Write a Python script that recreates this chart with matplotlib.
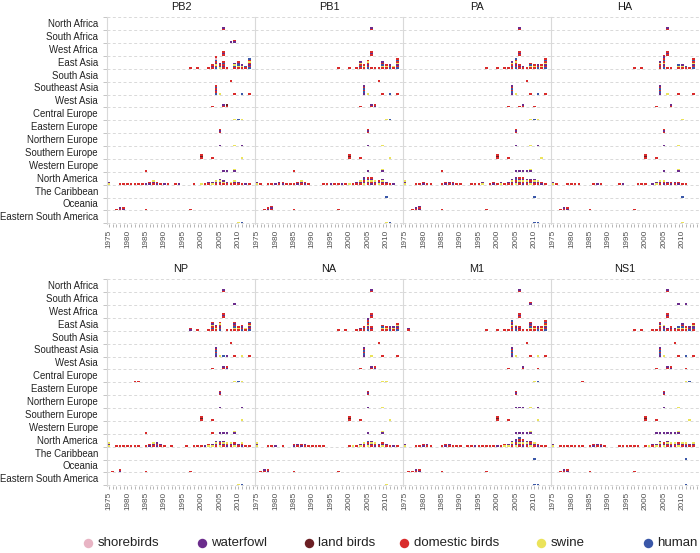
import matplotlib
matplotlib.use("Agg")
import matplotlib.pyplot as plt
from matplotlib.ticker import MultipleLocator, FixedLocator
from matplotlib.lines import Line2D

plt.rcParams['font.family'] = ['Liberation Sans', 'DejaVu Sans']

W, H = 700, 553

HOSTS = ["shorebirds", "waterfowl", "land birds", "domestic birds", "swine", "human"]
HOST_CODES = ["s", "w", "l", "d", "p", "h"]
HOST_COLORS = ["#E8B4C4", "#6B2C8C", "#6B1F24", "#D92B2B", "#EBE35A", "#3A57A8"]

REGIONS = ["North Africa", "South Africa", "West Africa", "East Asia", "South Asia",
           "Southeast Asia", "West Asia", "Central Europe", "Eastern Europe",
           "Northern Europe", "Southern Europe", "Western Europe", "North America",
           "The Caribbean", "Oceania", "Eastern South America"]

SEGMENTS = ["PB2", "PB1", "PA", "HA", "NP", "NA", "M1", "NS1"]

# one string per region (top to bottom): "year:hosts", one letter per sequence
PB2 = [
    "2006:dw",
    "2008:w 2009:wd",
    "2006:dwd",
    "1997:d 1999:d 2002:d 2003:dwd 2004:hdpwdhsd 2005:phdw 2006:dwdhd 2007:d 2009:dhpw "
    "2010:dphwd 2011:dpw 2012:dh 2013:hdwdpdh",
    "2008:d",
    "2004:hdwdhd 2005:p 2009:d 2011:h 2013:d",
    "2003:d 2006:dw 2007:dl",
    "2009:p 2010:h 2011:p",
    "2005:dwd",
    "2005:w 2009:p 2011:w",
    "2000:dld 2003:d 2011:p",
    "1985:d 2006:w 2007:w 2009:wp",
    "1975:pw 1978:d 1979:d 1980:d 1981:d 1982:d 1983:d 1984:d 1985:w 1986:wd 1987:dwp "
    "1988:wd 1989:d 1990:w 1991:d 1993:d 1994:w 1998:d 2000:p 2001:d 2002:dw 2003:pw "
    "2004:dwp 2005:dwpw 2006:dpw 2007:dw 2008:dp 2009:dwp 2010:dw 2011:d 2012:w 2013:d",
    "",
    "1977:d 1978:dw 1979:wd 1985:d 1997:d",
    "2010:p 2011:h",
]

PB1 = [
    "2006:dw",
    "",
    "2006:dwd",
    "1997:d 2000:d 2002:d 2003:dhdpw 2004:dpd 2005:hdwdpd 2006:d 2007:d 2008:d 2009:dphdw "
    "2010:dpd 2011:hdw 2012:dp 2013:hdwpdhd",
    "2008:d",
    "2004:whdhdw 2005:p 2009:d 2011:h 2013:d",
    "2003:d 2006:dw 2007:wd",
    "2010:p 2011:h",
    "2005:dwd",
    "2005:w 2009:p",
    "2000:dld 2003:d 2011:p",
    "1985:d 2005:w 2009:wp",
    "1975:pw 1976:d 1978:d 1979:d 1980:w 1981:dw 1982:wd 1983:d 1984:d 1985:d 1986:wd "
    "1987:dwp 1988:wd 1989:d 1993:d 1994:d 1995:w 1996:d 1997:d 1998:w 1999:d 2000:p "
    "2001:d 2002:dw 2003:dwp 2004:pwdhw 2005:dwpwd 2006:wdpwd 2007:dwp 2008:pwd 2009:dwpw "
    "2010:dw 2011:d 2012:w",
    "2010:h",
    "1977:d 1978:wd 1979:dwd 1985:d 1997:d",
    "2010:p 2011:h",
]

PA = [
    "2006:dw",
    "",
    "2006:dwd",
    "1997:d 2000:d 2002:d 2003:d 2004:dhdpw 2005:hdwdpdh 2006:dwd 2007:dw 2008:d 2009:dphd "
    "2010:dpd 2011:hdw 2012:dpd 2013:hdwpdhd",
    "2008:d",
    "2004:whdhdw 2005:p 2009:d 2011:h 2013:d",
    "2003:d 2006:d 2007:dw 2010:d",
    "2009:p 2010:h 2011:p",
    "2005:dwd",
    "2005:w 2009:p 2011:w",
    "2000:dld 2003:d 2012:p",
    "1985:d 2005:w 2006:w 2007:w 2008:w 2009:wp",
    "1975:pwp 1978:d 1979:d 1980:wd 1981:d 1982:d 1985:d 1986:wd 1987:dw 1988:wd 1989:d "
    "1990:d 1993:d 1994:d 1995:d 1996:pw 1998:d 1999:wd 2000:d 2001:pw 2002:d 2003:dw "
    "2004:dwpw 2005:pwdhw 2006:dwpwd 2007:wdpwd 2008:dwpw 2009:pwdw 2010:dwpw 2011:dwp "
    "2012:wd 2013:d",
    "2010:h",
    "1977:d 1978:dw 1979:wdw 1985:d 1997:d",
    "2010:h 2011:h",
]

HA = [
    "2006:dw",
    "",
    "2006:dwd",
    "1997:d 1999:d 2004:dhdpw 2005:hdwpdhdwd 2006:d 2007:d 2009:dph 2010:dpw 2011:dh "
    "2012:d 2013:hdwpdhd",
    "",
    "2004:whdhdw 2006:p 2009:d 2013:d",
    "2003:d 2007:dw",
    "2010:p",
    "2005:dwd",
    "2005:w 2009:p",
    "2000:dld 2003:d",
    "2005:w 2009:wp",
    "1975:pw 1976:d 1979:d 1980:d 1981:d 1982:d 1986:d 1987:w 1988:d 1993:d 1994:w "
    "1998:d 1999:d 2000:d 2002:w 2003:pw 2004:dwp 2005:wdp 2006:dw 2007:wd 2008:dw "
    "2009:wd 2010:d 2011:d",
    "2010:h",
    "1977:d 1978:dw 1979:wd 1985:d 1997:d",
    "2010:p",
]

NP = [
    "2006:dw",
    "2009:w",
    "2006:dwd",
    "1997:wd 1999:d 2002:d 2003:dhdpwd 2004:dpdw 2005:hdwdpd 2007:d 2008:d 2009:dphdwd "
    "2010:dpd 2011:hdwd 2012:dp 2013:hdwpdh",
    "2008:d",
    "2004:whdhdw 2005:p 2006:h 2007:w 2009:d 2011:p 2013:d",
    "2003:d 2006:dw 2007:wd",
    "1982:d 1983:d 2009:p 2010:h 2011:p",
    "2005:dwd",
    "2005:w 2011:w",
    "2000:dld 2003:d 2011:p",
    "1985:d 2003:d 2005:w 2006:w 2007:w 2009:wp",
    "1975:pwp 1977:d 1978:d 1979:d 1980:d 1981:d 1982:d 1983:d 1985:d 1986:wd 1987:dwp "
    "1988:wdw 1989:dw 1990:d 1992:d 1996:d 1998:d 1999:d 2000:d 2001:w 2002:pd 2003:pw "
    "2004:dwpw 2005:pwdh 2006:dwpw 2007:wdp 2008:dwp 2009:pwd 2010:dw 2011:wdp 2012:d 2013:d",
    "",
    "1976:d 1978:wd 1985:d 1997:d",
    "2010:p 2011:h",
]

NA = [
    "2006:dw",
    "",
    "2006:dwd",
    "1997:d 1999:d 2002:d 2003:dw 2004:dhd 2005:hdwpdhdw 2006:dwd 2009:dphd 2010:dpd "
    "2011:hdw 2012:dpw 2013:hdwpd",
    "2008:d",
    "2004:whdhdw 2006:p 2009:d 2013:d",
    "2003:d 2006:dw 2007:wd",
    "2009:p 2010:p",
    "2005:dwd",
    "2005:w 2009:p",
    "2000:dld 2003:d 2011:p",
    "2005:w 2009:wp",
    "1975:pwp 1978:d 1979:d 1980:w 1982:d 1985:wd 1986:dw 1987:wd 1988:dw 1989:d 1990:d "
    "1991:d 1992:d 1993:d 2000:d 2001:p 2002:d 2003:pw 2004:dwp 2005:pwdh 2006:dwpw "
    "2007:wdp 2008:dw 2009:pwd 2010:dw 2011:d 2012:w 2013:d",
    "",
    "1976:d 1977:dw 1978:wd 1985:d 1997:d",
    "2010:p",
]

M1 = [
    "2006:dw",
    "2009:wd",
    "2006:dwd",
    "1976:dw 1997:d 2000:d 2002:d 2003:d 2004:dhdpwdh 2005:hdwp 2006:dwd 2007:d 2008:d "
    "2009:dphdwd 2010:dpd 2011:hdw 2012:dpd 2013:hdwpdhd",
    "2008:d",
    "2004:whdhdw 2005:p 2009:d 2011:p 2013:d",
    "2003:d 2007:dw 2011:d",
    "2010:p 2011:h",
    "2005:dwd",
    "2005:w 2006:w 2007:w 2009:p 2011:w",
    "2000:dld 2003:d 2011:p",
    "2005:w 2006:w 2007:w 2008:w 2009:wp",
    "1975:pw 1978:d 1979:d 1980:wd 1981:dw 1982:d 1985:d 1986:wd 1987:dw 1988:d 1989:d "
    "1990:d 1992:d 1993:d 1994:w 1995:d 1996:d 1997:d 1998:d 1999:d 2000:w 2001:d 2002:pd "
    "2003:pw 2004:dwpw 2005:pwdhw 2006:dwpwdh 2007:wdpwd 2008:dwpw 2009:pwdw 2010:dwp "
    "2011:wd 2012:d 2013:d",
    "2010:h",
    "1976:d 1977:d 1978:dw 1979:wd 1985:d 1997:d",
    "2010:h 2011:h",
]

NS1 = [
    "2006:dw",
    "2009:w 2011:w",
    "2006:dwd",
    "1997:d 1999:d 2002:d 2003:d 2004:dhdpwd 2005:hdwp 2006:dw 2007:dwd 2008:dw 2009:dph "
    "2010:dphdw 2011:dpd 2012:hdw 2013:dhwpd",
    "2008:d",
    "2004:whdhdw 2005:p 2009:d 2011:h 2013:d",
    "2003:d 2006:dw 2007:wd 2011:d",
    "1983:d 2011:p 2012:h",
    "2005:dwd",
    "2005:w 2009:p",
    "2000:dld 2003:d 2012:p",
    "2003:w 2004:w 2005:w 2006:w 2007:w 2008:w 2009:wp",
    "1975:pw 1977:d 1978:d 1979:d 1980:d 1981:d 1982:d 1983:d 1985:d 1986:wd 1987:dw "
    "1988:wd 1989:d 1993:d 1994:d 1995:d 1996:d 1997:d 1998:d 2000:d 2001:p 2002:dw "
    "2003:pw 2004:dwpw 2005:pwd 2006:dwpw 2007:wdp 2008:dwp 2009:pwd 2010:dwp 2011:wdp "
    "2012:dw 2013:dwp",
    "2011:h",
    "1977:d 1978:dw 1979:wd 1985:d 1997:d",
    "2011:h",
]

DATA = {"PB2": PB2, "PB1": PB1, "PA": PA, "HA": HA,
        "NP": NP, "NA": NA, "M1": M1, "NS1": NS1}

UNIT = 0.12
COLOR = dict(zip(HOST_CODES, HOST_COLORS))


def parse(spec):
    out = []
    for item in spec.split():
        yr, codes = item.split(":")
        out.append((int(yr), codes))
    return out


fig = plt.figure(figsize=(W / 100, H / 100), dpi=100)

for idx, seg in enumerate(SEGMENTS):
    row, col = divmod(idx, 4)
    left_px = 107 + 148 * col
    top_px = 17 if row == 0 else 279
    ax = fig.add_axes([left_px / W, 1 - (top_px + 207) / H, 148 / W, 207 / H])

    xs, bottoms, colors = [], [], []
    for i, spec in enumerate(DATA[seg]):
        base = 15 - i
        for yr, codes in parse(spec):
            for j, c in enumerate(codes):
                xs.append(yr)
                bottoms.append(base + j * UNIT)
                colors.append(COLOR[c])
    ax.bar(xs, UNIT, bottom=bottoms, width=0.7, color=colors, linewidth=0, zorder=3)

    ax.set_xlim(1974.46, 2014.53)
    ax.set_ylim(-0.05, 16.02)
    ax.set_title(seg, fontsize=7.8, color="#1a1a1a", pad=5)

    for s in ("top", "right", "bottom"):
        ax.spines[s].set_visible(False)
    ax.spines["left"].set_color("#D9D9D9")
    ax.spines["left"].set_linewidth(0.8)

    ax.set_xticks(range(1975, 2011, 5))
    ax.xaxis.set_minor_locator(MultipleLocator(1))
    ax.tick_params(axis="x", which="both", length=2.5, width=0.6, color="#AAAAAA",
                   labelsize=5.9, labelcolor="#4D4D4D", labelrotation=90, pad=1.5)

    ax.set_yticks(range(17))
    ax.grid(axis="y", color="#D9D9D9", linewidth=0.7, linestyle=(0, (3, 2.5)), zorder=0)
    if col == 0:
        ax.yaxis.set_minor_locator(FixedLocator([15 - i + 0.55 for i in range(16)]))
        ax.set_yticklabels([])
        ax.set_yticklabels(REGIONS, minor=True)
        ax.tick_params(axis="y", which="major", length=3, width=0.6, color="#BBBBBB")
        ax.tick_params(axis="y", which="minor", length=0, pad=6.5,
                       labelsize=6.9, labelcolor="#222222")
    else:
        ax.set_yticklabels([])
        ax.tick_params(axis="y", which="both", length=0)

# legend row
lax = fig.add_axes([0, 0, 1, 1], facecolor="none")
lax.set_xlim(0, W)
lax.set_ylim(H, 0)
lax.axis("off")
legend_x = [88, 202, 309, 404, 541, 648]
for name, colr, lx in zip(HOSTS, HOST_COLORS, legend_x):
    lax.add_line(Line2D([lx], [543], marker="o", markersize=6.8, color=colr,
                        markeredgewidth=0, linestyle="none"))
    lax.text(lx + 9.5, 543, name, fontsize=9.5, color="#222222",
             va="center", ha="left")

fig.savefig("out.png", dpi=100)
